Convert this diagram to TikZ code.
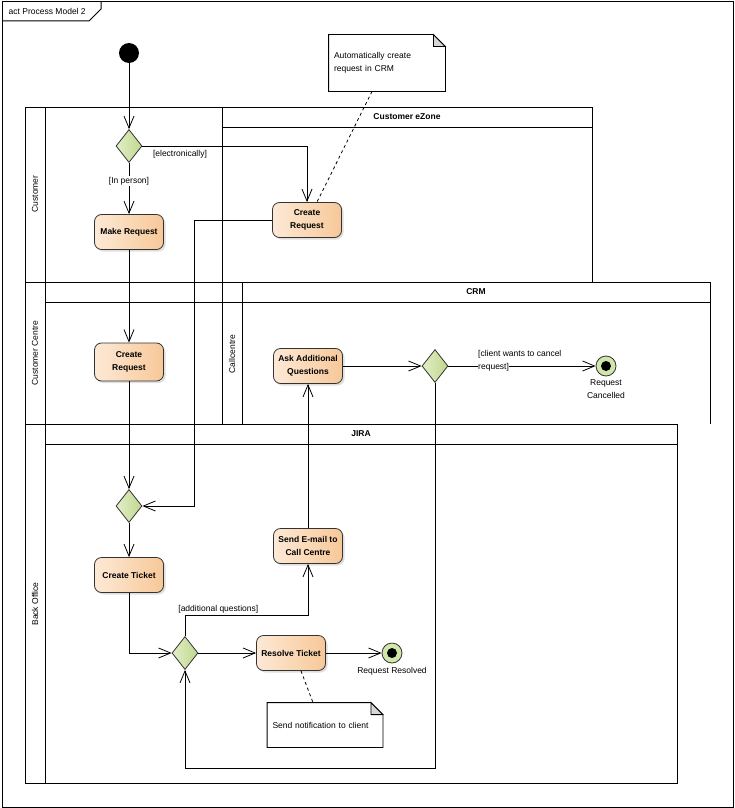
\documentclass[tikz,border=0pt]{standalone}
\usepackage{fontspec}
\setmainfont{Liberation Sans}
\usetikzlibrary{arrows.meta,shapes.geometric,shadows}
\newcommand{\umlfont}{\fontsize{8.5}{12.5}\selectfont}
\setlength{\fboxsep}{0pt}
\definecolor{peachL}{RGB}{253,233,214}
\definecolor{peachR}{RGB}{247,200,152}
\definecolor{greenL}{RGB}{226,238,198}
\definecolor{greenR}{RGB}{192,216,142}
\definecolor{endfill}{RGB}{210,230,170}
\definecolor{foldgray}{RGB}{215,215,215}

\begin{document}
\begin{tikzpicture}[x=1pt,y=-1pt,>={Straight Barb[length=12pt,width=10pt]},
        line width=0.8pt,every node/.style={font=\umlfont},
        lane/.style={line width=1pt},
        action/.style={rectangle,rounded corners=7pt,draw=black!80,
            left color=peachL,right color=peachR,minimum width=69pt,
            minimum height=35pt,align=center,font=\umlfont\bfseries,
            drop shadow={shadow xshift=2pt,shadow yshift=-2pt,opacity=0.25}},
        decision/.style={diamond,draw=black!80,left color=greenL,right color=greenR,
            minimum width=26pt,minimum height=33pt,inner sep=0pt},
        startdot/.style={circle,fill=black,minimum size=20pt,inner sep=0pt},
        final/.style={circle,draw=black!80,fill=endfill,minimum size=20pt,inner sep=0pt,
            path picture={\fill[black] (path picture bounding box.center) circle (5pt);}},
        memo/.style={rectangle,fill=white,align=left,inner xsep=5pt}]
  \useasboundingbox (0,0) rectangle (735,808);

  % frame
  \draw[lane] (2,2) rectangle (733,807);
  \draw[lane] (2,21) -- (89,21) -- (101,9) -- (101,2);
  \node[anchor=west] (title) at (5,11) {act Process Model 2};

  % swimlanes
  \draw[lane] (25,107) -- (592,107) -- (592,282);
  \draw[lane] (222,127) -- (592,127);
  \draw[lane] (222,107) -- (222,424);
  \draw[lane] (25,107) -- (25,783) -- (677,783) -- (677,424);
  \draw[lane] (45,107) -- (45,783);
  \draw[lane] (25,282) -- (710,282) -- (710,424);
  \draw[lane] (45,302) -- (710,302);
  \draw[lane] (242,282) -- (242,424);
  \draw[lane] (25,424) -- (677,424);
  \draw[lane] (45,444) -- (677,444);

  \node[rotate=90] (customer) at (35,194) {Customer};
  \node[rotate=90] (custcentre) at (35,353) {Customer Centre};
  \node[rotate=90] (backoffice) at (35,604) {Back Office};
  \node[rotate=90] (callcentre) at (232,354) {Callcentre};
  \node[font=\umlfont\bfseries] (ezone) at (407,117) {Customer eZone};
  \node[font=\umlfont\bfseries] (crm) at (476,292) {CRM};
  \node[font=\umlfont\bfseries] (jira) at (361,434) {JIRA};

  % activity nodes
  \node[startdot] (init) at (129,53) {};
  \node[decision] (d1) at (129,146) {};
  \node[action] (make) at (129,232) {Make Request};
  \node[action] (ezreq) at (307,220) {Create\\Request};
  \node[action,minimum height=38pt] (ccreq) at (129,362) {Create\\Request};
  \node[action] (ask) at (308,366) {Ask Additional\\Questions};
  \node[decision] (d2) at (435,366) {};
  \node[final,label={[align=center]below:Request\\Cancelled}] (cancelled) at (606,366) {};
  \node[decision] (d3) at (129,506) {};
  \node[action] (ticket) at (129,575) {Create Ticket};
  \node[action] (mail) at (308,546) {Send E-mail to\\Call Centre};
  \node[decision] (d4) at (185,653) {};
  \node[action] (resolve) at (291,653) {Resolve Ticket};
  \node[final,label=below:Request Resolved] (resolved) at (392,653) {};

  % notes
  \node[memo,minimum height=56pt,text width=106pt] (note1) at (387,63)
      {Automatically create\\request in CRM};
  \node[memo,minimum height=44pt,text width=105pt] (note2) at (325,725)
      {Send notification to client};
  \foreach \n in {note1,note2}{
    \draw (\n.north west) -- ([xshift=-12pt]\n.north east) -- ([yshift=-12pt]\n.north east)
      -- (\n.south east) -- (\n.south west) -- cycle;
    \draw[fill=foldgray] ([xshift=-12pt]\n.north east) -- ([yshift=-12pt]\n.north east)
      -- ([xshift=-12pt,yshift=-12pt]\n.north east) -- cycle;
  }

  \coordinate (jog) at (194,0);
  \coordinate (low) at (0,768);

  % control flows
  \draw[->] (init) -- (d1);
  \draw[->] (d1) -- node[fill=white,pos=0.35,inner sep=1pt] {[In person]} (make);
  \draw[->] (d1.east) -| node[below right,pos=0.025,yshift=-2pt,inner sep=2pt] {[electronically]} (ezreq.north);
  \draw[->] (make) -- (ccreq);
  \draw[->] (ccreq) -- (d3);
  \draw[->] (ezreq.west) -| (jog |- d3.east) -- (d3.east);
  \draw[->] (d3) -- (ticket);
  \draw[->] (ticket.south) |- (d4.west);
  \draw[->] (d4) -- (resolve);
  \draw[->] (resolve) -- (resolved);
  \draw[->] (d4.north) -- ++(0,-21) node[above right,xshift=-8pt,inner sep=1pt] {[additional questions]}
      -| (mail.south);
  \draw[->] (mail) -- (ask);
  \draw[->] (ask) -- (d2);
  \draw[->] (d2) -- node[pos=0.2,anchor=west,yshift=5pt,align=left,inner sep=0pt]
      {[client wants to cancel\\\colorbox{white}{request]}} (cancelled);
  \draw[->] (d2.south) |- (d4.south |- low) -- (d4.south);
  \draw[dashed] ([xshift=-15pt]note1.south) -- ([xshift=10pt]ezreq.north);
  \draw[dashed] ([xshift=10pt]resolve.south) -- ([xshift=-12pt]note2.north);

\end{tikzpicture}
\end{document}
